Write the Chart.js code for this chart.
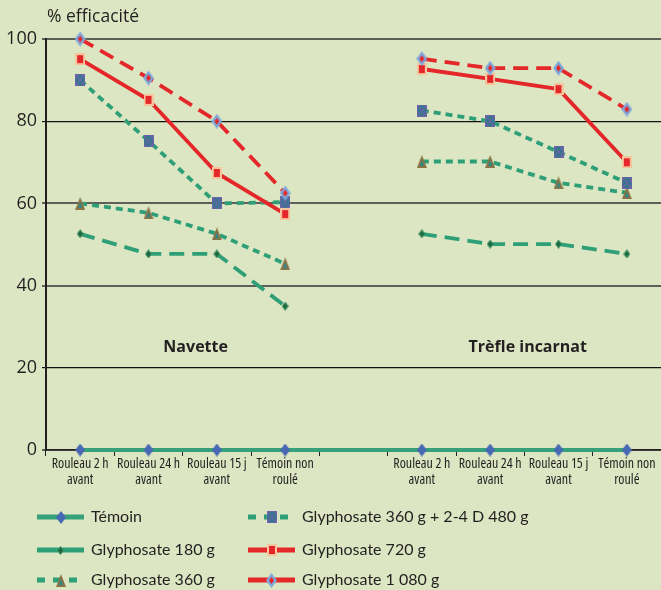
<!DOCTYPE html>
<html lang="fr">
<head>
<meta charset="utf-8">
<title>% efficacité</title>
<script src="https://cdn.jsdelivr.net/npm/chart.js@4.4.1/dist/chart.umd.min.js"></script>
<style>
  html, body { margin: 0; padding: 0; background: #dde6c3; }
  #wrap { width: 661px; height: 590px; }
</style>
</head>
<body>
<div id="wrap"><canvas id="efficaciteChart" width="661" height="590"></canvas></div>
<script>
'use strict';

// DATA
var categories = [
    ['Rouleau 2 h', 'avant'], ['Rouleau 24 h', 'avant'], ['Rouleau 15 j', 'avant'], ['Témoin non', 'roulé'],
    '',
    ['Rouleau 2 h', 'avant'], ['Rouleau 24 h', 'avant'], ['Rouleau 15 j', 'avant'], ['Témoin non', 'roulé']
];
var cultures = ['Navette', 'Trèfle incarnat'];
var yTicks = [0, 20, 40, 60, 80, 100];
var seriesNames = ['Témoin', 'Glyphosate 180 g', 'Glyphosate 360 g',
    'Glyphosate 360 g + 2-4 D 480 g', 'Glyphosate 720 g', 'Glyphosate 1 080 g'];

var temoin     = [0, 0, 0, 0, 0, 0, 0, 0, 0];
var glypho180  = [52.6, 47.7, 47.7, 35, null, 52.6, 50.1, 50.1, 47.7];
var glypho360  = [60, 57.7, 52.6, 45.3, null, 70.2, 70.2, 65, 62.6];
var glypho360d = [90, 75.2, 60, 60.3, null, 82.6, 80, 72.5, 65];
var glypho720  = [95.1, 85.2, 67.4, 57.4, null, 92.7, 90.3, 87.8, 70];
var glypho1080 = [100, 90.5, 80, 62.5, null, 95.2, 92.9, 92.9, 82.9];

var efficacitejs = function () {
    var GREEN = '#2f9f77';
    var RED = '#e4282a';
    var INK = '#231f20';

    function marker(w, h, draw) {
        var c = document.createElement('canvas');
        c.width = w;
        c.height = h;
        draw(c.getContext('2d'), w, h);
        return c;
    }
    function diamondPath(ctx, x, y, w, h) {
        ctx.beginPath();
        ctx.moveTo(x + w / 2, y);
        ctx.lineTo(x + w, y + h / 2);
        ctx.lineTo(x + w / 2, y + h);
        ctx.lineTo(x, y + h / 2);
        ctx.closePath();
    }

    return {

        init: function () {
            efficacitejs.buildMarkers();
            efficacitejs.handleLineChart();
        },

        markers: {},
        buildMarkers: function () {
            var m = efficacitejs.markers;
            m.temoin = marker(10, 13, function (ctx, w, h) {
                diamondPath(ctx, 0, 0, w, h);
                ctx.fillStyle = '#4868b4';
                ctx.fill();
            });
            m.g180 = marker(7, 9, function (ctx, w, h) {
                diamondPath(ctx, 0.5, 0.5, w - 1, h - 1);
                ctx.fillStyle = '#1d6a42';
                ctx.fill();
                ctx.strokeStyle = '#3f9464';
                ctx.lineWidth = 1;
                ctx.stroke();
            });
            m.g360 = marker(10, 13, function (ctx, w, h) {
                ctx.beginPath();
                ctx.moveTo(w / 2, 0);
                ctx.lineTo(w, h);
                ctx.lineTo(0, h);
                ctx.closePath();
                ctx.fillStyle = '#8a7344';
                ctx.fill();
                ctx.beginPath();
                ctx.moveTo(w / 2, 5);
                ctx.lineTo(w - 3, h - 2);
                ctx.lineTo(3, h - 2);
                ctx.closePath();
                ctx.fillStyle = '#2a8a8c';
                ctx.fill();
            });
            m.g360d = marker(10, 12, function (ctx, w, h) {
                ctx.fillStyle = '#2a7b86';
                ctx.fillRect(0, 0, w, h);
                ctx.strokeStyle = '#6a64a8';
                ctx.lineWidth = 1.3;
                ctx.beginPath();
                ctx.moveTo(1, 1); ctx.lineTo(w - 1, h - 1);
                ctx.moveTo(w - 1, 1); ctx.lineTo(1, h - 1);
                ctx.stroke();
                ctx.strokeRect(0.6, 0.6, w - 1.2, h - 1.2);
            });
            m.g720 = marker(10, 12, function (ctx, w, h) {
                ctx.fillStyle = '#f6c59c';
                ctx.fillRect(0, 0, w, h);
                ctx.fillStyle = '#e4282a';
                ctx.fillRect(2, 2, w - 4, h - 4);
            });
            m.g1080 = marker(11, 15, function (ctx, w, h) {
                diamondPath(ctx, 0, 0, w, h);
                ctx.fillStyle = '#7ea8dc';
                ctx.fill();
                diamondPath(ctx, 3, 4, w - 6, h - 8);
                ctx.fillStyle = '#e4282a';
                ctx.fill();
            });
        },

        //TEXTS AND LEGEND DRAWN ON THE CANVAS
        annotations: {
            id: 'annotations',
            afterDraw: function (chart) {
                var ctx = chart.ctx;
                var x = chart.scales.x;
                var y = chart.scales.y;
                ctx.save();
                ctx.fillStyle = INK;
                ctx.textBaseline = 'middle';
                ctx.font = '17.5px "Open Sans", sans-serif';
                ctx.textAlign = 'left';
                ctx.fillText('% efficacité', 47, 17);

                ctx.font = 'bold 16px "Open Sans", sans-serif';
                ctx.textAlign = 'center';
                ctx.fillText(cultures[0], x.getPixelForValue(1.69), y.getPixelForValue(25));
                ctx.fillText(cultures[1], x.getPixelForValue(6.55), y.getPixelForValue(25));

                // legend, two columns
                var slots = [[37, 517], [37, 550], [37, 580], [248, 517], [248, 550], [248, 580]];
                chart.data.datasets.forEach(function (ds) {
                    var s = slots[ds.legendSlot];
                    var len = 47;
                    var dash = ds.borderDash || [];
                    ctx.strokeStyle = ds.borderColor;
                    ctx.lineWidth = 5;
                    ctx.setLineDash(dash.length && dash[0] < 10 ? [8, 8] : []);
                    ctx.beginPath();
                    ctx.moveTo(s[0], s[1]);
                    ctx.lineTo(s[0] + len, s[1]);
                    ctx.stroke();
                    ctx.setLineDash([]);
                    var img = ds.pointStyle;
                    ctx.drawImage(img, Math.round(s[0] + len / 2 - img.width / 2), Math.round(s[1] - img.height / 2));
                    ctx.font = '16px Lato, sans-serif';
                    ctx.textAlign = 'left';
                    ctx.fillStyle = INK;
                    ctx.fillText(ds.label, s[0] + len + 7, s[1]);
                });
                ctx.restore();
            }
        },

        handleLineChart: function () {
            var m = efficacitejs.markers;
            var line = function (label, data, color, dash, width, style, order, slot) {
                return {
                    label: label,
                    data: data,
                    borderColor: color,
                    backgroundColor: color,
                    borderWidth: width,
                    borderDash: dash,
                    pointStyle: style,
                    pointRadius: 5,
                    pointHoverRadius: 5,
                    tension: 0,
                    spanGaps: false,
                    clip: false,
                    order: order,
                    legendSlot: slot
                };
            };
            var dsTemoin = line(seriesNames[0], temoin, '#35a07a', [], 4, m.temoin, 6, 0);
            dsTemoin.pointRadius = temoin.map(function (v, i) { return categories[i] === '' ? 0 : 5; });

            new Chart('efficaciteChart', {
                type: 'line',
                data: {
                    labels: categories,
                    datasets: [
                        dsTemoin,
                        line(seriesNames[1], glypho180, GREEN, [15, 8], 3.8, m.g180, 5, 1),
                        line(seriesNames[2], glypho360, GREEN, [7, 5], 3.8, m.g360, 4, 2),
                        line(seriesNames[3], glypho360d, GREEN, [7, 5], 3.8, m.g360d, 3, 3),
                        line(seriesNames[4], glypho720, RED, [], 3.8, m.g720, 2, 4),
                        line(seriesNames[5], glypho1080, RED, [15, 8], 3.8, m.g1080, 1, 5)
                    ]
                },
                options: {
                    responsive: false,
                    animation: false,
                    layout: { autoPadding: false, padding: { top: 39, bottom: 100, left: 0, right: 0 } },
                    plugins: {
                        legend: { display: false },
                        title: { display: false },
                        tooltip: { enabled: false }
                    },
                    scales: {
                        x: {
                            offset: true,
                            grid: { offset: true, drawOnChartArea: false, drawTicks: true, tickLength: 6, color: INK },
                            border: { display: true, color: INK, width: 1.5 },
                            ticks: {
                                autoSkip: false, maxRotation: 0, padding: 0,
                                color: INK,
                                // "condensed" goes into the canvas font string
                                font: { family: '"Open Sans", sans-serif', weight: 'condensed', size: 14, lineHeight: 1.15 }
                            },
                            afterFit: function (scale) {
                                scale.height = 40;
                                scale.paddingLeft = 0;
                                scale.paddingRight = 0;
                            }
                        },
                        y: {
                            min: yTicks[0],
                            max: yTicks[yTicks.length - 1],
                            afterBuildTicks: function (scale) {
                                scale.ticks = yTicks.map(function (v) { return { value: v }; });
                            },
                            grid: {
                                drawTicks: true,
                                tickLength: 4,
                                color: function (c) { return (c.tick && (c.tick.value === 80 || c.tick.value === 20)) ? '#111111' : '#5f5f5a'; },
                                lineWidth: function (c) { return (c.tick && (c.tick.value === 80 || c.tick.value === 20)) ? 1.2 : 2; }
                            },
                            border: { display: true, color: INK, width: 2 },
                            ticks: {
                                padding: 5,
                                color: INK,
                                font: { family: '"Open Sans", sans-serif', size: 18 }
                            },
                            afterFit: function (scale) { scale.width = 46; }
                        }
                    }
                },
                plugins: [efficacitejs.annotations]
            });
        },

    };

}();

// Call main function init
efficacitejs.init();
</script>
</body>
</html>
